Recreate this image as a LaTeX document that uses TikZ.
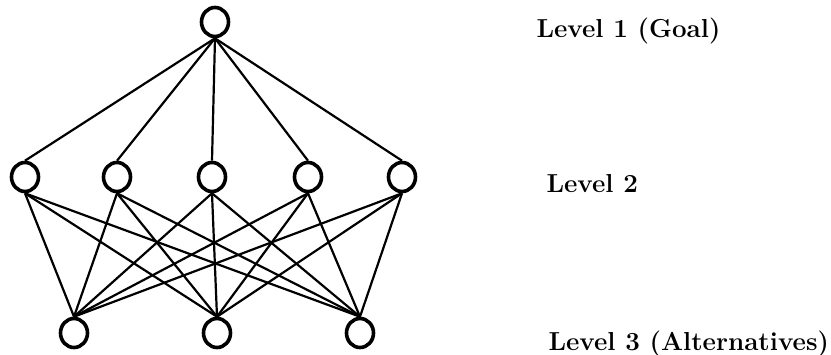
\documentclass[tikz,border=0pt]{standalone}
\usepackage{tikz}
\usetikzlibrary{shapes.geometric}

\begin{document}
\begin{tikzpicture}[x=1pt, y=1pt,
  every node/.style={font=\fontsize{26}{30}\selectfont\bfseries},
  elem/.style={draw, ellipse, line width=3.6pt, minimum width=27pt, minimum height=29pt, inner sep=0pt},
  lvl/.style={anchor=base west},
  edge/.style={line width=2.2pt}]
\useasboundingbox (0,0) rectangle (831,354);
\node[elem] (goal) at (215,332) {};
\node[elem] (c1) at (25,177) {};
\node[elem] (c2) at (117,177) {};
\node[elem] (c3) at (212,177) {};
\node[elem] (c4) at (308,177) {};
\node[elem] (c5) at (402,177) {};
\node[elem] (a1) at (74,21) {};
\node[elem] (a2) at (217,21) {};
\node[elem] (a3) at (360,21) {};
\foreach \c in {c1,c2,c3,c4,c5} {
  \draw[edge] (goal.south) -- (\c.north);
  \foreach \a in {a1,a2,a3}
    \draw[edge] (\c.south) -- (\a.north);
}
\node[lvl] (l1) at (533,316) {Level 1 (Goal)};
\node[lvl] (l2) at (543,161) {Level 2};
\node[lvl] (l3) at (545,4) {Level 3 (Alternatives)};
\end{tikzpicture}
\end{document}
